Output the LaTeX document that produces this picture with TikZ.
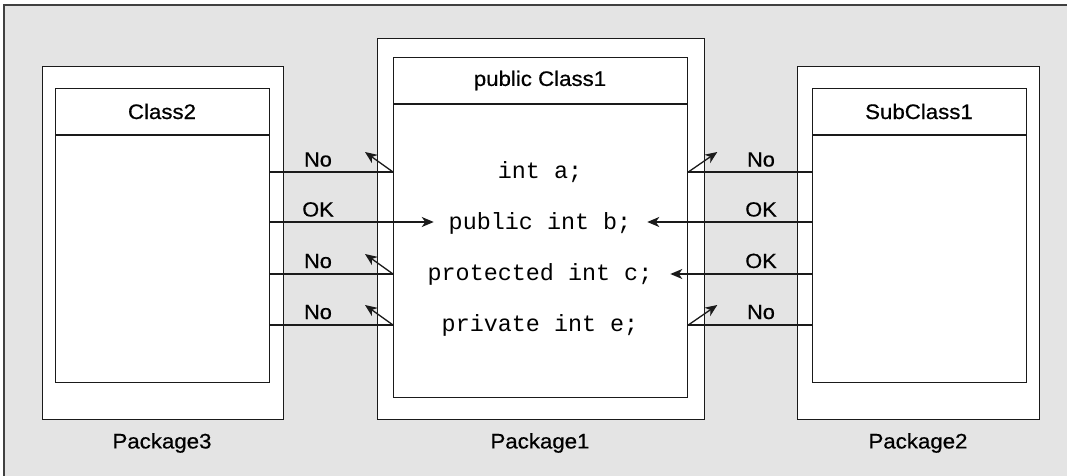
\documentclass[tikz,border=0pt]{standalone}
\usepackage{fontspec}
\setmainfont{Liberation Sans}[FakeStretch=1.06,FakeBold=0.6]
\newfontfamily\codefont{Liberation Mono}
\usetikzlibrary{arrows.meta}
\definecolor{bggray}{HTML}{E4E4E4}
\definecolor{edge}{HTML}{1A1A1A}
\begin{document}
\begin{tikzpicture}[x=1pt,y=-1pt,
  line width=1.3pt,
  frame/.style={draw=edge, fill=white, inner sep=0pt, anchor=north west, line width=1.3pt},
  title/.style={font=\fontsize{21}{25}\selectfont},
  code/.style={font=\codefont\fontsize{23.4}{28}\selectfont, anchor=base},
  verdict/.style={font=\fontsize{20.5}{24}\selectfont, anchor=base},
  conn/.style={draw=edge, line width=1.3pt},
  arr/.style={conn, -{Stealth[length=12pt,width=10pt,inset=3.5pt]}}]
\useasboundingbox (0,0) rectangle (1067,476);
\fill[bggray] (4,5) rectangle (1067,476);
\draw[draw=black!75, line width=1.3pt] (4,476) -- (4,5) -- (1067,5);

% packages and classes
\node[frame, minimum width=241, minimum height=353] (p3) at (42,66) {};
\node[frame, minimum width=214, minimum height=294] (c2) at (55,88) {};
\node[frame, minimum width=327, minimum height=381] (p1) at (377,38) {};
\node[frame, minimum width=294, minimum height=340] (c1) at (393,57) {};
\node[frame, minimum width=242, minimum height=353] (p2) at (797,66) {};
\node[frame, minimum width=214, minimum height=294] (s1) at (812,88) {};

\coordinate (h1) at (0,104);
\coordinate (h2) at (0,135);
\draw[conn] (c2.west |- h2) -- (c2.east |- h2);
\draw[conn] (c1.west |- h1) -- (c1.east |- h1);
\draw[conn] (s1.west |- h2) -- (s1.east |- h2);

\node[title] (t2) at (162,111.5) {Class2};
\node[title] (t1) at (540,80.5) {public Class1};
\node[title] (ts) at (919,111.5) {SubClass1};

\node[title] (n3) at (162,443) {Package3};
\node[title] (n1) at (540,443) {Package1};
\node[title] (n2) at (918,443) {Package2};

% members
\node[code] (ma) at (540,178.5) {int a;};
\node[code] (mb) at (540,229) {public int b;};
\node[code] (mc) at (540,280.5) {protected int c;};
\node[code] (me) at (540,331.5) {private int e;};

\coordinate (r1) at (0,172);
\coordinate (r2) at (0,222);
\coordinate (r3) at (0,274);
\coordinate (r4) at (0,325);

% left side (Package3)
\draw[conn] (c2.east |- r1) -- (c1.west |- r1) coordinate (kl1);
\draw[arr] (kl1) -- ++(-28,-20);
\draw[arr, shorten >=11pt] (c2.east |- r2) -- (mb.west |- r2);
\draw[conn] (c2.east |- r3) -- (c1.west |- r3) coordinate (kl3);
\draw[arr] (kl3) -- ++(-28,-20);
\draw[conn] (c2.east |- r4) -- (c1.west |- r4) coordinate (kl4);
\draw[arr] (kl4) -- ++(-28,-20);

% right side (Package2)
\draw[conn] (s1.west |- r1) -- (c1.east |- r1) coordinate (kr1);
\draw[arr] (kr1) -- ++(29,-20);
\draw[arr, shorten >=12pt] (s1.west |- r2) -- (mb.east |- r2);
\draw[arr, shorten >=14pt] (s1.west |- r3) -- (mc.east |- r3);
\draw[conn] (s1.west |- r4) -- (c1.east |- r4) coordinate (kr4);
\draw[arr] (kr4) -- ++(29,-20);

% verdicts
\node[verdict] (vl1) at (318,166.5) {No};
\node[verdict] (vl2) at (318,216.5) {OK};
\node[verdict] (vl3) at (318,268) {No};
\node[verdict] (vl4) at (318,319) {No};
\node[verdict] (vr1) at (761,166.5) {No};
\node[verdict] (vr2) at (761,216.5) {OK};
\node[verdict] (vr3) at (761,268) {OK};
\node[verdict] (vr4) at (761,319) {No};
\end{tikzpicture}
\end{document}
